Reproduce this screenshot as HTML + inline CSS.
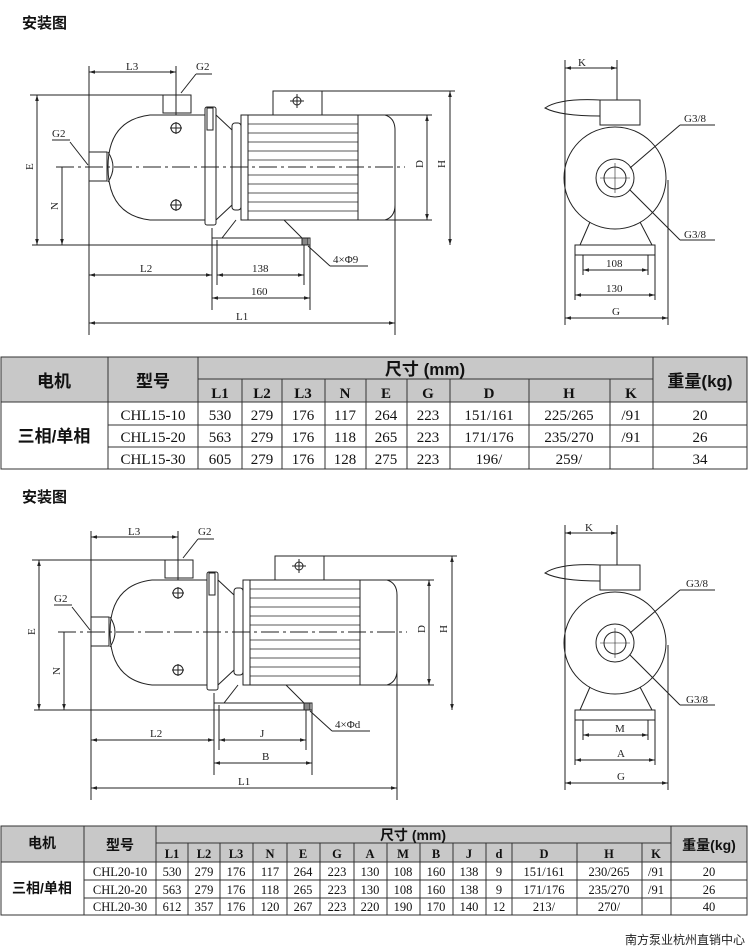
<!DOCTYPE html>
<html><head><meta charset="utf-8"><style>
body{margin:0;background:#fff}
svg{display:block}
.t{font-family:"Liberation Serif","Noto Serif CJK SC",serif}
.c{font-family:"Liberation Sans","Noto Sans CJK SC",sans-serif}
</style></head><body>
<svg width="750" height="948" viewBox="0 0 750 948" xmlns="http://www.w3.org/2000/svg">
<defs>
<marker id="a" viewBox="0 0 10 10" refX="10" refY="5" markerWidth="8" markerHeight="6" orient="auto-start-reverse"><path d="M0,2 L10,5 L0,8 z" fill="#222"/></marker>
</defs>
<g id="pump" fill="none" stroke="#222" stroke-width="1">
 <line x1="32" y1="245" x2="310" y2="245"/>
 <line x1="89" y1="66" x2="89" y2="335"/>
 <line x1="395" y1="150" x2="395" y2="335"/>
 <line x1="176" y1="66" x2="176" y2="115"/>
 <line x1="30" y1="95" x2="163" y2="95"/>
 <line x1="322" y1="91" x2="455" y2="91"/>
 <line x1="380" y1="115" x2="432" y2="115"/>
 <line x1="380" y1="220" x2="432" y2="220"/>
 <line x1="212" y1="228" x2="212" y2="310"/>
 <line x1="217" y1="240" x2="217" y2="285"/>
 <line x1="304" y1="240" x2="304" y2="285"/>
 <line x1="310" y1="240" x2="310" y2="310"/>
 <line x1="89" y1="72" x2="176" y2="72" marker-start="url(#a)" marker-end="url(#a)"/>
 <line x1="37" y1="95" x2="37" y2="245" marker-start="url(#a)" marker-end="url(#a)"/>
 <line x1="62" y1="167" x2="62" y2="245" marker-end="url(#a)"/>
 <line x1="427" y1="115" x2="427" y2="220" marker-start="url(#a)" marker-end="url(#a)"/>
 <line x1="450" y1="91" x2="450" y2="245" marker-start="url(#a)" marker-end="url(#a)"/>
 <line x1="89" y1="275" x2="212" y2="275" marker-start="url(#a)" marker-end="url(#a)"/>
 <line x1="217" y1="275" x2="304" y2="275" marker-start="url(#a)" marker-end="url(#a)"/>
 <line x1="212" y1="298" x2="310" y2="298" marker-start="url(#a)" marker-end="url(#a)"/>
 <line x1="89" y1="323" x2="395" y2="323" marker-start="url(#a)" marker-end="url(#a)"/>
 <line x1="56" y1="167" x2="405" y2="167" stroke-dasharray="18,4,3,4"/>
 <line x1="181" y1="93" x2="196" y2="74"/><line x1="196" y1="74" x2="212" y2="74"/>
 <line x1="88" y1="165" x2="70" y2="142"/><line x1="52" y1="140" x2="70" y2="140"/>
 <line x1="308" y1="246" x2="330" y2="266"/><line x1="330" y1="266" x2="368" y2="266"/>
 <rect x="163" y="95" width="28" height="18"/>
 <path d="M205,115 L150,115 Q108,120 108,167 Q108,215 150,220 L205,220"/>
 <path d="M108,152 Q118,167 108,182"/>
 <rect x="89" y="152" width="18" height="29"/>
 <circle cx="176" cy="128" r="5"/><line x1="170" y1="128" x2="182" y2="128"/><line x1="176" y1="122" x2="176" y2="134"/>
 <circle cx="176" cy="205" r="5"/><line x1="170" y1="205" x2="182" y2="205"/><line x1="176" y1="199" x2="176" y2="211"/>
 <rect x="205" y="107" width="11" height="118" rx="2"/>
 <path d="M216,115 L232,130 L232,205 L216,220"/>
 <rect x="232" y="123" width="9" height="87" rx="3"/>
 <rect x="207" y="108" width="6" height="22"/>
 <rect x="241" y="115" width="7" height="105"/>
 <rect x="248" y="115" width="110" height="105"/>
 <g stroke-width="0.7">
  <line x1="248" y1="124" x2="358" y2="124"/><line x1="248" y1="133" x2="358" y2="133"/><line x1="248" y1="142" x2="358" y2="142"/><line x1="248" y1="151" x2="358" y2="151"/><line x1="248" y1="160" x2="358" y2="160"/><line x1="248" y1="175" x2="358" y2="175"/><line x1="248" y1="184" x2="358" y2="184"/><line x1="248" y1="193" x2="358" y2="193"/><line x1="248" y1="202" x2="358" y2="202"/><line x1="248" y1="211" x2="358" y2="211"/>
 </g>
 <path d="M358,115 L385,115 Q395,118 395,130 L395,205 Q395,217 385,220 L358,220"/>
 <rect x="273" y="91" width="49" height="24"/>
 <circle cx="297" cy="101" r="4"/><line x1="290" y1="101" x2="304" y2="101"/><line x1="297" y1="94" x2="297" y2="108"/>
 <path d="M236,220 L222,238 L212,238 L212,245 M284,220 L302,238 L310,238 L310,245"/>
 <line x1="212" y1="238" x2="310" y2="238"/>
 <rect x="302" y="238" width="6" height="7" fill="#888"/>
</g>
<use href="#pump" transform="translate(2,465)"/>

<g id="side" fill="none" stroke="#222" stroke-width="1">
 <circle cx="615" cy="178" r="51"/>
 <circle cx="615" cy="178" r="19"/>
 <circle cx="615" cy="178" r="11"/>
 <line x1="600" y1="178" x2="630" y2="178" stroke-width="0.6"/><line x1="615" y1="163" x2="615" y2="193" stroke-width="0.6"/>
 <path d="M545,108 Q560,98 600,100 L600,116 Q560,116 545,108 Z"/>
 <rect x="600" y="100" width="40" height="25"/>
 <path d="M590,222 L580,245 M640,222 L652,245"/>
 <rect x="575" y="245" width="80" height="10"/>
 <line x1="565" y1="60" x2="565" y2="325"/>
 <line x1="617" y1="60" x2="617" y2="100"/>
 <line x1="668" y1="180" x2="668" y2="325"/>
 <line x1="583" y1="255" x2="583" y2="275"/><line x1="648" y1="255" x2="648" y2="275"/>
 <line x1="575" y1="255" x2="575" y2="300"/><line x1="655" y1="255" x2="655" y2="300"/>
 <line x1="565" y1="68" x2="617" y2="68" marker-start="url(#a)" marker-end="url(#a)"/>
 <line x1="583" y1="270" x2="648" y2="270" marker-start="url(#a)" marker-end="url(#a)"/>
 <line x1="575" y1="295" x2="655" y2="295" marker-start="url(#a)" marker-end="url(#a)"/>
 <line x1="565" y1="318" x2="668" y2="318" marker-start="url(#a)" marker-end="url(#a)"/>
 <line x1="630" y1="168" x2="680" y2="125"/><line x1="680" y1="125" x2="715" y2="125"/>
 <line x1="630" y1="190" x2="680" y2="240"/><line x1="680" y1="240" x2="715" y2="240"/>
</g>
<use href="#side" transform="translate(0,465)"/>

<g class="t" font-size="11" fill="#222">
 <text x="126" y="70">L3</text><text x="196" y="70">G2</text><text x="52" y="137">G2</text>
 <text x="140" y="272">L2</text><text x="252" y="272">138</text><text x="251" y="295">160</text><text x="236" y="320">L1</text>
 <text x="333" y="263">4×Φ9</text>
 <text transform="translate(33,170) rotate(-90)">E</text><text transform="translate(58,210) rotate(-90)">N</text>
 <text transform="translate(423,168) rotate(-90)">D</text><text transform="translate(445,168) rotate(-90)">H</text>
 <text x="578" y="66">K</text><text x="684" y="122">G3/8</text><text x="684" y="238">G3/8</text>
 <text x="606" y="267">108</text><text x="606" y="292">130</text><text x="612" y="315">G</text>
 <g transform="translate(0,465)">
 <text x="128" y="70">L3</text><text x="198" y="70">G2</text><text x="54" y="137">G2</text>
 <text x="150" y="272">L2</text><text x="260" y="272">J</text><text x="262" y="295">B</text><text x="238" y="320">L1</text>
 <text x="335" y="263">4×Φd</text>
 <text transform="translate(35,170) rotate(-90)">E</text><text transform="translate(60,210) rotate(-90)">N</text>
 <text transform="translate(425,168) rotate(-90)">D</text><text transform="translate(447,168) rotate(-90)">H</text>
 <text x="585" y="66">K</text><text x="686" y="122">G3/8</text><text x="686" y="238">G3/8</text>
 <text x="615" y="267">M</text><text x="617" y="292">A</text><text x="617" y="315">G</text>
 </g>
</g>
<g class="c" font-weight="bold" font-size="15" fill="#111">
 <text x="22" y="28">安装图</text><text x="22" y="502">安装图</text>
</g>

<g stroke="#333" stroke-width="1">
 <rect x="1" y="357" width="746" height="45" fill="#c8c8c8"/>
 <rect x="1" y="402" width="746" height="67" fill="#fff"/>
 <line x1="108" y1="357" x2="108" y2="469"/><line x1="198" y1="357" x2="198" y2="469"/><line x1="653" y1="357" x2="653" y2="469"/>
 <line x1="198" y1="379" x2="653" y2="379"/>
 <line x1="108" y1="425" x2="747" y2="425"/><line x1="108" y1="447" x2="747" y2="447"/>
 <g><line x1="242" y1="379" x2="242" y2="469"/><line x1="282" y1="379" x2="282" y2="469"/><line x1="325" y1="379" x2="325" y2="469"/><line x1="366" y1="379" x2="366" y2="469"/><line x1="407" y1="379" x2="407" y2="469"/><line x1="450" y1="379" x2="450" y2="469"/><line x1="529" y1="379" x2="529" y2="469"/><line x1="610" y1="379" x2="610" y2="469"/></g>
</g>
<g class="t" font-size="15" fill="#111" text-anchor="middle">
 <g class="c" font-weight="bold" font-size="17"><text x="54" y="387">电机</text><text x="153" y="387">型号</text><text x="700" y="387">重量(kg)</text><text x="54" y="442">三相/单相</text><text x="425" y="375">尺寸 (mm)</text></g>
 <g font-weight="bold"><text x="220" y="398">L1</text><text x="262" y="398">L2</text><text x="303" y="398">L3</text><text x="345" y="398">N</text><text x="386" y="398">E</text><text x="428" y="398">G</text><text x="489" y="398">D</text><text x="569" y="398">H</text><text x="631" y="398">K</text></g>
 <text x="153" y="420">CHL15-10</text><text x="220" y="420">530</text><text x="262" y="420">279</text><text x="303" y="420">176</text><text x="345" y="420">117</text><text x="386" y="420">264</text><text x="428" y="420">223</text><text x="489" y="420">151/161</text><text x="569" y="420">225/265</text><text x="631" y="420">/91</text><text x="700" y="420">20</text>
 <text x="153" y="442">CHL15-20</text><text x="220" y="442">563</text><text x="262" y="442">279</text><text x="303" y="442">176</text><text x="345" y="442">118</text><text x="386" y="442">265</text><text x="428" y="442">223</text><text x="489" y="442">171/176</text><text x="569" y="442">235/270</text><text x="631" y="442">/91</text><text x="700" y="442">26</text>
 <text x="153" y="464">CHL15-30</text><text x="220" y="464">605</text><text x="262" y="464">279</text><text x="303" y="464">176</text><text x="345" y="464">128</text><text x="386" y="464">275</text><text x="428" y="464">223</text><text x="489" y="464">196/</text><text x="569" y="464">259/</text><text x="700" y="464">34</text>
</g>

<g stroke="#333" stroke-width="1">
 <rect x="1" y="826" width="746" height="36" fill="#c8c8c8"/>
 <rect x="1" y="862" width="746" height="53" fill="#fff"/>
 <line x1="84" y1="826" x2="84" y2="915"/><line x1="156" y1="826" x2="156" y2="915"/><line x1="671" y1="826" x2="671" y2="915"/>
 <line x1="156" y1="843" x2="671" y2="843"/>
 <line x1="84" y1="880" x2="747" y2="880"/><line x1="84" y1="898" x2="747" y2="898"/>
 <g><line x1="188" y1="843" x2="188" y2="915"/><line x1="220" y1="843" x2="220" y2="915"/><line x1="253" y1="843" x2="253" y2="915"/><line x1="287" y1="843" x2="287" y2="915"/><line x1="320" y1="843" x2="320" y2="915"/><line x1="354" y1="843" x2="354" y2="915"/><line x1="387" y1="843" x2="387" y2="915"/><line x1="420" y1="843" x2="420" y2="915"/><line x1="453" y1="843" x2="453" y2="915"/><line x1="486" y1="843" x2="486" y2="915"/><line x1="512" y1="843" x2="512" y2="915"/><line x1="577" y1="843" x2="577" y2="915"/><line x1="642" y1="843" x2="642" y2="915"/></g>
</g>
<g class="t" font-size="12.5" fill="#111" text-anchor="middle">
 <g class="c" font-weight="bold" font-size="14"><text x="42" y="848">电机</text><text x="120" y="850">型号</text><text x="709" y="850">重量(kg)</text><text x="42" y="893">三相/单相</text><text x="413" y="840">尺寸 (mm)</text></g>
 <g font-weight="bold"><text x="172" y="858">L1</text><text x="204" y="858">L2</text><text x="236" y="858">L3</text><text x="270" y="858">N</text><text x="303" y="858">E</text><text x="337" y="858">G</text><text x="370" y="858">A</text><text x="403" y="858">M</text><text x="436" y="858">B</text><text x="469" y="858">J</text><text x="499" y="858">d</text><text x="544" y="858">D</text><text x="609" y="858">H</text><text x="656" y="858">K</text></g>
 <text x="120" y="876">CHL20-10</text><text x="172" y="876">530</text><text x="204" y="876">279</text><text x="236" y="876">176</text><text x="270" y="876">117</text><text x="303" y="876">264</text><text x="337" y="876">223</text><text x="370" y="876">130</text><text x="403" y="876">108</text><text x="436" y="876">160</text><text x="469" y="876">138</text><text x="499" y="876">9</text><text x="544" y="876">151/161</text><text x="609" y="876">230/265</text><text x="656" y="876">/91</text><text x="709" y="876">20</text>
 <text x="120" y="894">CHL20-20</text><text x="172" y="894">563</text><text x="204" y="894">279</text><text x="236" y="894">176</text><text x="270" y="894">118</text><text x="303" y="894">265</text><text x="337" y="894">223</text><text x="370" y="894">130</text><text x="403" y="894">108</text><text x="436" y="894">160</text><text x="469" y="894">138</text><text x="499" y="894">9</text><text x="544" y="894">171/176</text><text x="609" y="894">235/270</text><text x="656" y="894">/91</text><text x="709" y="894">26</text>
 <text x="120" y="911">CHL20-30</text><text x="172" y="911">612</text><text x="204" y="911">357</text><text x="236" y="911">176</text><text x="270" y="911">120</text><text x="303" y="911">267</text><text x="337" y="911">223</text><text x="370" y="911">220</text><text x="403" y="911">190</text><text x="436" y="911">170</text><text x="469" y="911">140</text><text x="499" y="911">12</text><text x="544" y="911">213/</text><text x="609" y="911">270/</text><text x="709" y="911">40</text>
</g>
<text x="745" y="944" text-anchor="end" class="c" font-size="12" fill="#222">南方泵业杭州直销中心</text>
</svg>
</body></html>
